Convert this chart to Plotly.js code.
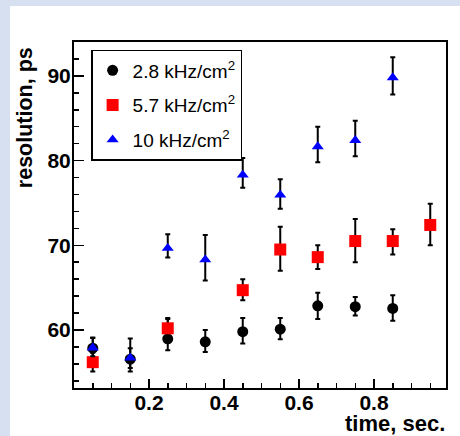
<!DOCTYPE html>
<html><head><meta charset="utf-8">
<script src="https://cdn.plot.ly/plotly-3.0.1.min.js"></script>
<style>
html,body{margin:0;padding:0;background:#d6e0f1;width:460px;height:436px;overflow:hidden;}
#panel{position:absolute;left:10px;top:6px;width:450px;height:430px;background:#fff;}
#chart{position:absolute;left:0;top:0;width:460px;height:436px;}
</style></head><body>
<div id="panel"></div>
<div id="chart"></div>
<script>
// 2.8 kHz/cm2
const t28 = [0.05, 0.15, 0.25, 0.35, 0.45, 0.55, 0.65, 0.75, 0.85];
const r28 = [57.85, 56.55, 58.95, 58.6, 59.8, 60.1, 62.85, 62.75, 62.55];
const r28Up = [1.2, 1.3, 2.45, 1.4, 1.6, 1.3, 1.55, 1.15, 1.55];
const r28Dn = [1.2, 1.45, 1.35, 1.2, 1.4, 1.2, 1.55, 1.05, 1.45];
// 5.7 kHz/cm2
const t57 = [0.05, 0.25, 0.45, 0.55, 0.65, 0.75, 0.85, 0.95];
const r57 = [56.2, 60.2, 64.7, 69.5, 68.6, 70.5, 70.5, 72.4];
const r57Up = [1.1, 1.1, 1.3, 2.7, 1.4, 2.6, 1.4, 2.5];
const r57Dn = [1.1, 1.0, 1.2, 2.5, 1.4, 2.5, 1.6, 2.4];
// 10 kHz/cm2
const t10 = [0.05, 0.15, 0.25, 0.35, 0.45, 0.55, 0.65, 0.75, 0.85];
const r10 = [57.9, 56.7, 69.65, 68.3, 78.3, 75.95, 81.65, 82.4, 89.8];
const r10Up = [1.2, 2.3, 1.65, 2.9, 2.0, 1.85, 2.35, 2.3, 2.4];
const r10Dn = [1.0, 1.2, 1.1, 2.45, 1.5, 1.65, 1.85, 1.9, 2.0];

const xTicks = [0.2, 0.4, 0.6, 0.8];
const xTickText = ['0.2', '0.4', '0.6', '0.8'];
const yTicks = [60, 70, 80, 90];
const names = ['2.8 kHz/cm<sup>2</sup>', '5.7 kHz/cm<sup>2</sup>', '10 kHz/cm<sup>2</sup>'];

function tr(x, y, up, dn, name, sym, color, size, grp) {
  return {
    type: 'scatter', mode: 'markers', x: x, y: y, name: name, legendgroup: grp,
    marker: {symbol: sym, color: color, size: size, line: {width: 0}},
    error_y: {type: 'data', symmetric: false, array: up, arrayminus: dn,
              color: '#000', thickness: 2, width: 2.5}
  };
}
const data = [
  tr(t28, r28, r28Up, r28Dn, names[0], 'circle', '#000000', 11, 'a'),
  tr(t57, r57, r57Up, r57Dn, names[1], 'square', '#ff0000', 12, 'b'),
  tr(t10, r10, r10Up, r10Dn, names[2], 'triangle-up', '#0000ff', 10.5, 'c')
];
const tickFont = {family: 'Liberation Sans, Arial, sans-serif', size: 21, color: '#000', weight: 'bold'};
const layout = {
  width: 460, height: 436,
  paper_bgcolor: 'rgba(0,0,0,0)', plot_bgcolor: '#fff',
  margin: {l: 74, r: 14, t: 42, b: 48},
  showlegend: true,
  legend: {x: 0.046, y: 0.977, xanchor: 'left', yanchor: 'top',
    bgcolor: '#fff', bordercolor: '#000', borderwidth: 1.5,
    font: {family: 'Liberation Sans, Arial, sans-serif', size: 19, color: '#000'},
    traceorder: 'grouped', tracegroupgap: 7},
  xaxis: {range: [0, 0.992], showline: true, mirror: true, linecolor: '#000', linewidth: 2,
    zeroline: false, showgrid: false, ticks: 'inside', ticklen: 9, tickwidth: 1.5, tickcolor: '#000',
    tickmode: 'array', tickvals: xTicks, ticktext: xTickText, tickfont: tickFont, ticklabelstandoff: -5,
    minor: {dtick: 0.05, tick0: 0, ticks: 'inside', ticklen: 5, tickwidth: 1.5, tickcolor: '#000', showgrid: false}},
  yaxis: {range: [53.15, 94], showline: true, mirror: true, linecolor: '#000', linewidth: 2,
    zeroline: false, showgrid: false, ticks: 'inside', ticklen: 10, tickwidth: 1.5, tickcolor: '#000',
    tickmode: 'array', tickvals: yTicks, tickfont: tickFont, ticklabelstandoff: -3,
    minor: {dtick: 2, tick0: 0, ticks: 'inside', ticklen: 5, tickwidth: 1.5, tickcolor: '#000', showgrid: false}},
  annotations: [
    {text: 'resolution, ps', xref: 'paper', yref: 'paper', x: -0.132, y: 0.992,
     xanchor: 'center', yanchor: 'top', textangle: -90, showarrow: false,
     font: {family: 'Liberation Sans, Arial, sans-serif', size: 21.5, color: '#000', weight: 'bold'}},
    {text: 'time, sec.', xref: 'paper', yref: 'paper', x: 1.003, y: -0.062,
     xanchor: 'right', yanchor: 'top', showarrow: false,
     font: {family: 'Liberation Sans, Arial, sans-serif', size: 22, color: '#000', weight: 'bold'}}
  ]
};
Plotly.newPlot('chart', data, layout, {displayModeBar: false, staticPlot: true});
</script>
</body></html>
